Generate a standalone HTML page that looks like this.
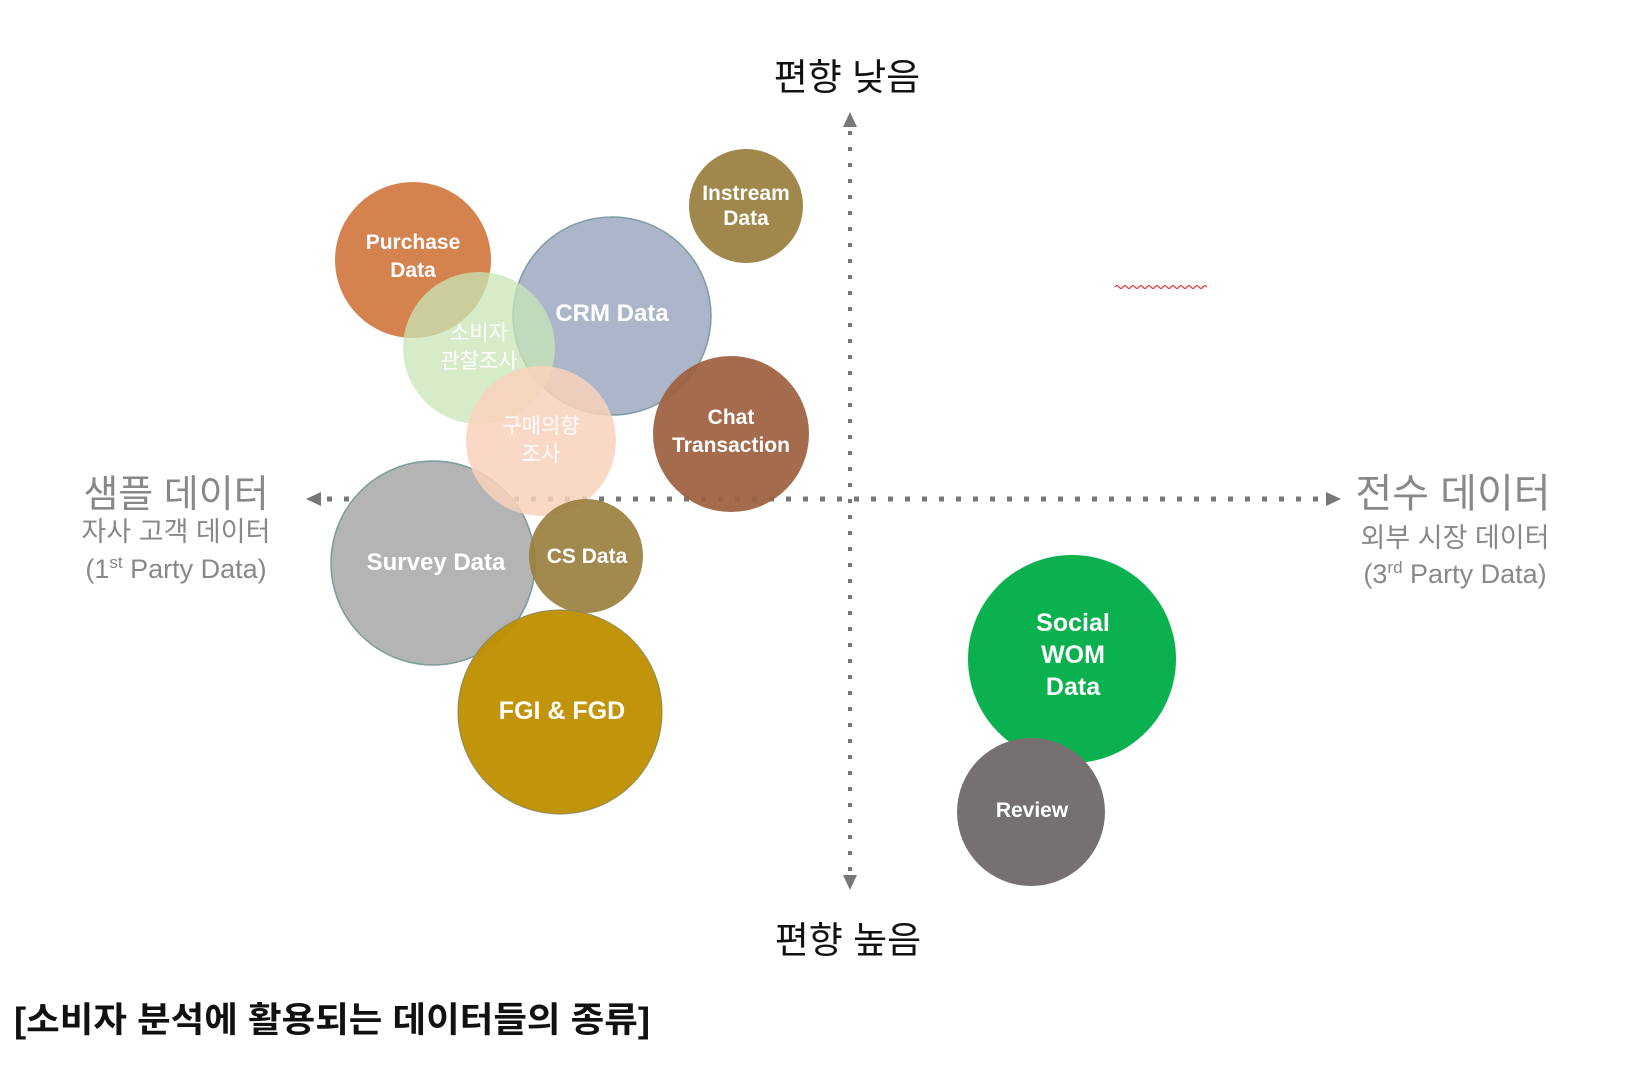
<!DOCTYPE html>
<html><head><meta charset="utf-8"><style>
html,body{margin:0;padding:0;background:#fff;width:1648px;height:1070px;overflow:hidden}
svg{display:block}
.k{font-family:"Liberation Sans","Noto Sans CJK KR",sans-serif}
.w{fill:#fff;font-family:"Liberation Sans","Noto Sans CJK KR",sans-serif;text-anchor:middle;font-weight:bold}
.w .n{font-weight:normal}
</style></head><body>
<svg width="1648" height="1070" viewBox="0 0 1648 1070">
<g transform="translate(-3,-1)">
<line x1="853" y1="132" x2="853" y2="876" stroke="#777" stroke-width="4" stroke-dasharray="4 12"/>
<polygon points="853,113 846,128 860,128" fill="#777"/>
<polygon points="853,891 846,876 860,876" fill="#777"/>
<line x1="330" y1="500" x2="1325" y2="500" stroke="#777" stroke-width="5" stroke-dasharray="5 12"/>
<polygon points="309,500 324,493 324,507" fill="#777"/>
<polygon points="1344,500 1329,493 1329,507" fill="#777"/>
<circle cx="749" cy="207" r="57" fill="#a0884c"/>
<circle cx="416" cy="261" r="78" fill="#d4834f"/>
<circle cx="615" cy="317" r="99" fill="#acb6cb" stroke="#7d9ca8" stroke-width="1.5"/>
<circle cx="734" cy="435" r="78" fill="#9e6040" fill-opacity="0.93"/>
<circle cx="482" cy="349" r="76" fill="#c8e6b6" fill-opacity="0.75"/>
<circle cx="436" cy="564" r="102" fill="#b4b4b4" stroke="#7d9c9c" stroke-width="1.5"/>
<circle cx="544" cy="442" r="75" fill="#f8d2bb" fill-opacity="0.85"/>
<circle cx="589" cy="557" r="57" fill="#9a7f3e" fill-opacity="0.92"/>
<circle cx="563" cy="713" r="102" fill="#bf9000" fill-opacity="0.96" stroke="#8a8a60" stroke-width="1"/>
<circle cx="1075" cy="660" r="104" fill="#0bb04f"/>
<circle cx="1034" cy="813" r="74" fill="#767070"/>
<g class="w" font-size="21">
<text x="749" y="201">Instream</text><text x="749" y="226">Data</text>
<text x="416" y="250">Purchase</text><text x="416" y="278">Data</text>
<text x="615" y="322" font-size="24">CRM Data</text>
<text x="734" y="425">Chat</text><text x="734" y="453">Transaction</text>
<text class="n" x="482" y="341">소비자</text><text class="n" x="482" y="369">관찰조사</text>
<text class="n" x="544" y="434">구매의향</text><text class="n" x="544" y="462">조사</text>
<text x="439" y="571" font-size="24">Survey Data</text>
<text x="590" y="564">CS Data</text>
<text x="565" y="720" font-size="25">FGI &amp; FGD</text>
<text x="1076" y="632" font-size="25">Social</text><text x="1076" y="664" font-size="25">WOM</text><text x="1076" y="696" font-size="25">Data</text>
<text x="1035" y="818" font-size="21">Review</text>
</g>
<path d="M1118,288 q2,-3 4,0 t4,0 t4,0 t4,0 t4,0 t4,0 t4,0 t4,0 t4,0 t4,0 t4,0 t4,0 t4,0 t4,0 t4,0 t4,0 t4,0 t4,0 t4,0 t4,0 t4,0 t4,0 t4,0" fill="none" stroke="#e33" stroke-width="1.2"/>
</g>
<g class="k" fill="#111" font-size="37" text-anchor="middle">
<text x="847" y="90">편향 낮음</text>
<text x="848" y="953">편향 높음</text>
</g>
<g class="k" fill="#888" text-anchor="middle">
<text x="176" y="507" font-size="38">샘플 데이터</text>
<text x="176" y="541" font-size="27">자사 고객 데이터</text>
<text x="176" y="578" font-size="27">(1<tspan font-size="17" dy="-10">st</tspan><tspan dy="10"> Party Data)</tspan></text>
<text x="1453" y="507" font-size="40">전수 데이터</text>
<text x="1455" y="547" font-size="27">외부 시장 데이터</text>
<text x="1455" y="583" font-size="27">(3<tspan font-size="17" dy="-10">rd</tspan><tspan dy="10"> Party  Data)</tspan></text>
</g>
<text class="k" x="14" y="1032" font-size="35" font-weight="bold" fill="#111" textLength="636" lengthAdjust="spacingAndGlyphs">[소비자 분석에 활용되는 데이터들의 종류]</text>
</svg>
</body></html>
